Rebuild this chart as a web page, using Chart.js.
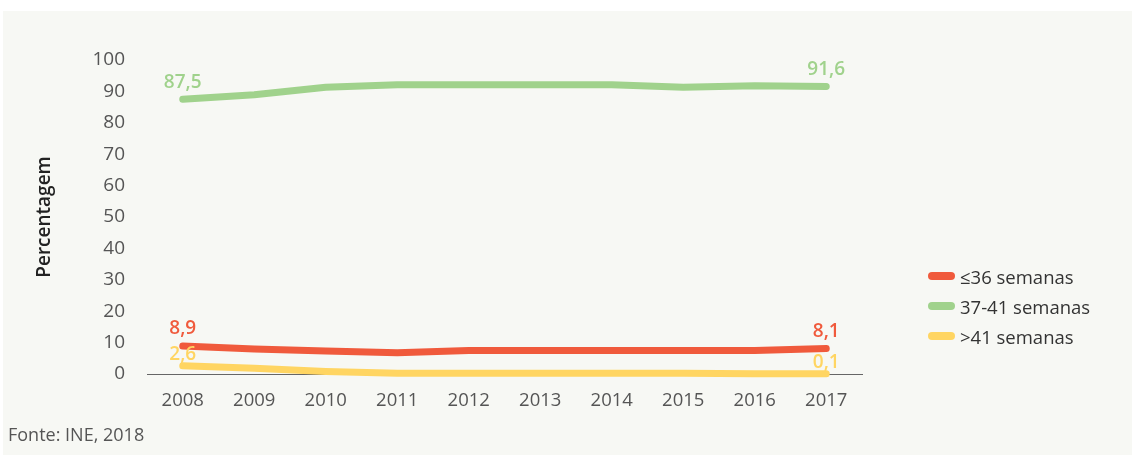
<!DOCTYPE html>
<html>
<head>
<meta charset="utf-8">
<script src="https://cdn.jsdelivr.net/npm/chart.js@4.4.1/dist/chart.umd.min.js"></script>
<style>
  html, body { margin: 0; padding: 0; background: #ffffff; }
  #panel {
    position: absolute; left: 3px; top: 11px; width: 1129px; height: 444px;
    background: #f7f8f4; font-family: 'Open Sans', sans-serif;
  }
  #chart { position: absolute; left: 0; top: 0; }
  #legend { position: absolute; left: 925px; top: 250px; }
  .item { height: 30px; display: flex; align-items: center; font-size: 18.5px; color: #333; }
  .swatch { width: 27px; height: 8px; border-radius: 4px; margin-right: 5px; }
  #source { position: absolute; left: 5px; top: 411px; font-size: 18px; color: #555; }
</style>
</head>
<body>
<div id="panel">
  <canvas id="chart" width="1129" height="444"></canvas>
  <div id="legend"></div>
  <div id="source">Fonte: INE, 2018</div>
</div>
<script>
// anos e percentagens por duração da gestação
const anos = ['2008', '2009', '2010', '2011', '2012', '2013', '2014', '2015', '2016', '2017'];
const ate36 = [8.9, 8.0, 7.3, 6.8, 7.5, 7.5, 7.5, 7.5, 7.5, 8.1];
const de37a41 = [87.5, 88.9, 91.3, 92.1, 92.1, 92.1, 92.1, 91.3, 91.8, 91.6];
const mais41 = [2.6, 1.8, 0.8, 0.2, 0.2, 0.2, 0.2, 0.2, 0.1, 0.1];

const series = [
    { nome: '≤36 semanas', dados: ate36, cor: '#f05a3c', offset: 17 },
    { nome: '37-41 semanas', dados: de37a41, cor: '#a0d28c', offset: 17 },
    { nome: '>41 semanas', dados: mais41, cor: '#ffd562', offset: 11 }
];

// legenda em html
const legendEl = document.getElementById('legend');
series.forEach(s => {
    const row = document.createElement('div');
    row.className = 'item';
    row.innerHTML = `<span class="swatch" style="background:${s.cor}"></span>${s.nome}`;
    legendEl.appendChild(row);
});

// valores no primeiro e no último ponto, com vírgula decimal
const rotulosPontas = {
    id: 'rotulosPontas',
    afterDatasetsDraw(chart) {
        const ctx = chart.ctx;
        ctx.save();
        ctx.font = '600 19px "Open Sans"';
        ctx.textAlign = 'center';
        ctx.textBaseline = 'middle';
        chart.data.datasets.forEach((ds, i) => {
            const meta = chart.getDatasetMeta(i);
            const s = series[i];
            [0, ds.data.length - 1].forEach(j => {
                const p = meta.data[j];
                ctx.fillStyle = s.cor;
                ctx.fillText(String(ds.data[j]).replace('.', ','), p.x, p.y - s.offset);
            });
        });
        ctx.restore();
    }
};

const padLeft = 24;

new Chart(document.getElementById('chart').getContext('2d'), {
    type: 'line',
    data: {
        labels: anos,
        datasets: series.map(s => ({
            label: s.nome,
            data: s.dados,
            borderColor: s.cor,
            backgroundColor: s.cor,
            borderWidth: 7,
            borderCapStyle: 'round',
            borderJoinStyle: 'round',
            pointRadius: 0,
            tension: 0,
            clip: false
        }))
    },
    options: {
        responsive: false,
        animation: false,
        devicePixelRatio: 1,
        layout: { padding: { left: padLeft, right: 270, top: 49, bottom: 0 } },
        plugins: {
            legend: { display: false },
            tooltip: { enabled: false }
        },
        scales: {
            x: {
                offset: true,
                grid: { display: false },
                border: { display: true, color: '#666', width: 1 },
                ticks: { color: '#555', padding: 8, font: { family: 'Open Sans', size: 18.5 } },
                afterFit: s => { s.height = 81; }
            },
            y: {
                min: 0,
                max: 100,
                grid: { display: false },
                border: { display: false },
                ticks: { stepSize: 10, color: '#555', padding: 14, font: { family: 'Open Sans', size: 19 } },
                title: {
                    display: true,
                    text: 'Percentagem',
                    color: '#222',
                    padding: { top: 6, bottom: 0 },
                    font: { family: 'Open Sans', size: 19, weight: 600 }
                },
                afterFit: s => { s.width = 144 - padLeft; }
            }
        }
    },
    plugins: [rotulosPontas]
});
</script>
</body>
</html>
